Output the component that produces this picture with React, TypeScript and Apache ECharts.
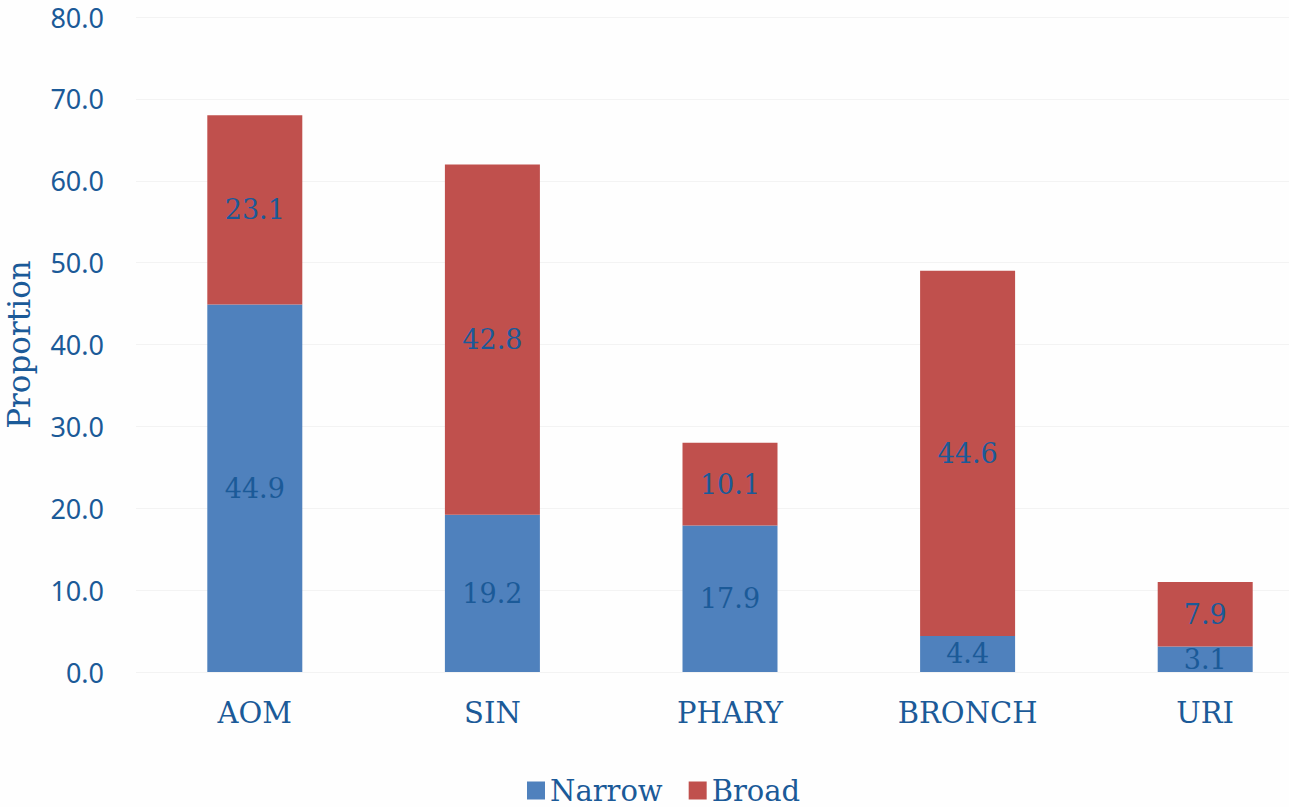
import React, { useEffect, useRef } from "react";
import * as echarts from "echarts";

const categories = ["AOM", "SIN", "PHARY", "BRONCH", "URI"];
const narrow = [44.9, 19.2, 17.9, 4.4, 3.1];
const broad = [23.1, 42.8, 10.1, 44.6, 7.9];
const yTicks = { min: 0, max: 80, interval: 10 };

const FONT = "DejaVu Serif";
const SANS = "Noto Sans";
const TEXT = "#1b5a98";

export default function App() {
  const ref = useRef<HTMLDivElement>(null);
  useEffect(() => {
    const chart = echarts.init(ref.current!, null, { renderer: "svg" });
    const label = {
      show: true,
      position: "inside",
      color: TEXT,
      fontFamily: FONT,
      fontSize: 27,
      formatter: (p: any) => Number(p.value).toFixed(1),
    };
    chart.setOption({
      animation: false,
      backgroundColor: "#fefefe",
      textStyle: { fontFamily: FONT, color: TEXT },
      grid: {
        left: 136,
        width: 1188,
        top: 17,
        height: 655,
        outerBoundsMode: "none",
        containLabel: false,
      },
      legend: {
        top: 771,
        left: 522,
        itemWidth: 18,
        itemHeight: 18,
        itemGap: 26,
        icon: "rect",
        textStyle: { color: TEXT, fontFamily: FONT, fontSize: 29 },
        data: ["Narrow", "Broad"],
      },
      xAxis: {
        type: "category",
        data: categories,
        axisLine: { show: false },
        axisTick: { show: false },
        axisLabel: { color: TEXT, fontFamily: FONT, fontSize: 29, margin: 26 },
      },
      yAxis: {
        type: "value",
        min: yTicks.min,
        max: yTicks.max,
        interval: yTicks.interval,
        name: "Proportion",
        nameLocation: "middle",
        nameGap: 102,
        nameTextStyle: { color: TEXT, fontFamily: FONT, fontSize: 31 },
        axisLine: { show: false },
        axisTick: { show: false },
        axisLabel: {
          color: TEXT,
          fontFamily: SANS,
          fontSize: 27,
          margin: 32,
          formatter: (v: number) => v.toFixed(1),
        },
        splitLine: { lineStyle: { color: "#f3f3f3", width: 1 } },
      },
      series: [
        {
          name: "Narrow",
          type: "bar",
          stack: "total",
          barWidth: 95,
          data: narrow,
          itemStyle: { color: "#4f81bd" },
          label,
        },
        {
          name: "Broad",
          type: "bar",
          stack: "total",
          barWidth: 95,
          data: broad,
          itemStyle: { color: "#c0504d" },
          label,
        },
      ],
    });
    return () => chart.dispose();
  }, []);
  return (
    <div
      ref={ref}
      style={{ position: "absolute", left: 0, top: 0, width: 1289, height: 807 }}
    />
  );
}
